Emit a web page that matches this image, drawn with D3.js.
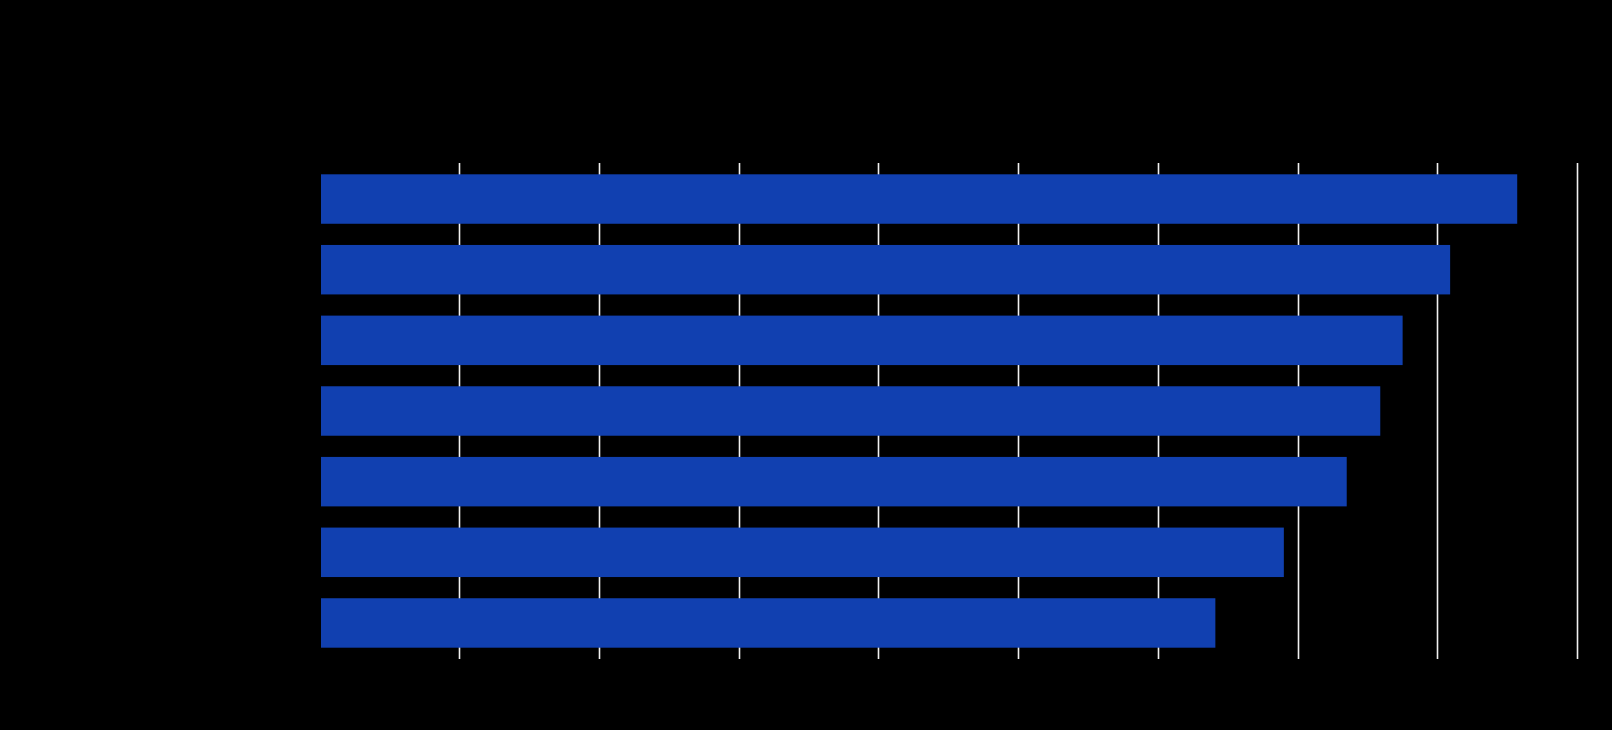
<!DOCTYPE html>
<html>
<head>
<meta charset="utf-8">
<script src="https://cdn.jsdelivr.net/npm/d3@7"></script>
<style>
  html, body { margin: 0; padding: 0; background: #000; }
  svg { display: block; }
</style>
</head>
<body>
<svg id="drawing_region"></svg>
<script>
// data (labels are drawn black on black in the reference)
const categories = ['A', 'B', 'C', 'D', 'E', 'F', 'G'];
const values = [85.6, 80.8, 77.4, 75.8, 73.4, 68.9, 64.0];
const tick_values = [0, 10, 20, 30, 40, 50, 60, 70, 80, 90];

const config = {
    width: 1612,
    height: 730,
    margin: {top: 163, right: 33, bottom: 71, left: 321}
};

const svg = d3.select('#drawing_region')
    .attr('width', config.width)
    .attr('height', config.height);

const chart = svg.append('g')
    .attr('transform', `translate(${config.margin.left}, ${config.margin.top})`);

const inner_width = config.width - config.margin.left - config.margin.right;
const inner_height = config.height - config.margin.top - config.margin.bottom;

const xscale = d3.scaleLinear()
    .domain([0, 90])
    .range([0, inner_width - 0.3]);

const yscale = d3.scaleBand()
    .domain(categories)
    .range([0, inner_height])
    .paddingInner(0.3)
    .paddingOuter(0.16);

// gridlines behind the bars
chart.append('g')
    .selectAll('line')
    .data(tick_values.filter(d => d > 0))
    .join('line')
    .attr('x1', d => Math.floor(xscale(d)) - 0.5)
    .attr('x2', d => Math.floor(xscale(d)) - 0.5)
    .attr('y1', 0)
    .attr('y2', inner_height)
    .attr('stroke', '#f0f0f0')
    .attr('stroke-width', 1.6);

chart.selectAll('rect')
    .data(values)
    .join('rect')
    .attr('x', 0)
    .attr('y', (d, i) => yscale(categories[i]))
    .attr('width', d => xscale(d))
    .attr('height', yscale.bandwidth())
    .attr('fill', '#1140b0');

// axes, text is black like in the reference
const xaxis = d3.axisBottom(xscale)
    .tickValues(tick_values)
    .tickSize(0)
    .tickPadding(12);

const xaxis_group = chart.append('g')
    .attr('transform', `translate(0, ${inner_height})`)
    .call(xaxis);
xaxis_group.select('.domain').remove();
xaxis_group.selectAll('text')
    .attr('fill', '#000')
    .attr('font-family', 'Roboto, sans-serif')
    .attr('font-size', 14);

const yaxis = d3.axisLeft(yscale)
    .tickSize(0)
    .tickPadding(12);

const yaxis_group = chart.append('g')
    .call(yaxis);
yaxis_group.select('.domain').remove();
yaxis_group.selectAll('text')
    .attr('fill', '#000')
    .attr('font-family', 'Roboto, sans-serif')
    .attr('font-size', 14);
</script>
</body>
</html>
